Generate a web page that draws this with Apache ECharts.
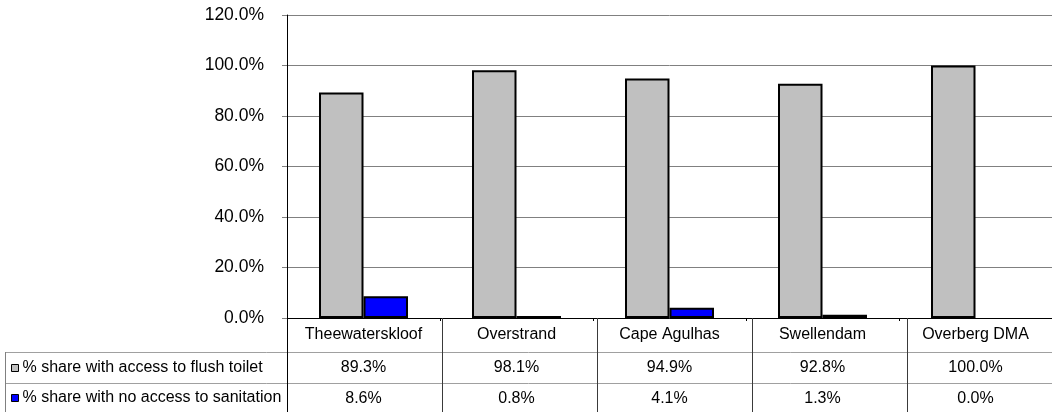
<!DOCTYPE html>
<html>
<head>
<meta charset="utf-8">
<script src="https://cdn.jsdelivr.net/npm/echarts@6/dist/echarts.min.js"></script>
<style>
  html, body { margin: 0; padding: 0; background: #ffffff; }
  #chart { width: 1052px; height: 412px; }
</style>
</head>
<body>
<div id="chart"></div>
<script>
// Sanitation access by municipality, Overberg district
const categories = ['Theewaterskloof', 'Overstrand', 'Cape Agulhas', 'Swellendam', 'Overberg DMA'];
const flushToilet = [89.3, 98.1, 94.9, 92.8, 100.0];
const noSanitation = [8.6, 0.8, 4.1, 1.3, 0.0];
const seriesNames = ['% share with access to flush toilet', '% share with no access to sanitation'];
const yMin = 0, yMax = 120, yStep = 20;

const FONT = 'Liberation Sans, Arial, sans-serif';

// plot frame and data-table layout
const G = { left: 287, top: 15, width: 775, height: 303 };
const rowH = [34, 31, 30];
const tableTop = G.top + G.height;
const rowY1 = tableTop + rowH[0];
const rowY2 = rowY1 + rowH[1];
const H = 412, W = 1052;
const colW = G.width / categories.length;

const pct = v => v.toFixed(1) + '%';

const lines = [];
const hLine = (x1, x2, y, c) => lines.push({ type: 'line', silent: true, z: 10,
  shape: { x1: x1, y1: y + 0.5, x2: x2, y2: y + 0.5 }, style: { stroke: c, lineWidth: 1 } });
const vLine = (x, y1, y2, c) => lines.push({ type: 'line', silent: true, z: 10,
  shape: { x1: x + 0.5, y1: y1, x2: x + 0.5, y2: y2 }, style: { stroke: c, lineWidth: 1 } });

hLine(5, W, rowY1, '#a0a0a0');
hLine(5, W, rowY2, '#a0a0a0');
vLine(5, rowY1, H, '#808080');
vLine(G.left, tableTop, H, '#000000');
for (let i = 1; i < categories.length; i++) {
  vLine(Math.round(G.left + i * colW), tableTop, H, '#3a3a3a');
}

const valueAxis = (offset, values) => ({
  type: 'category', gridIndex: 0, position: 'bottom', offset: offset,
  data: categories,
  axisLine: { show: false }, axisTick: { show: false },
  axisLabel: { margin: 8, color: '#000', fontFamily: FONT, fontSize: 16,
    formatter: (v, i) => pct(values[i]) }
});

// one legend key per table row
const rowLegend = (name, top) => ({
  data: [name],
  left: 11, top: top,
  icon: 'rect', itemWidth: 7, itemHeight: 7, itemGap: 0,
  itemStyle: { borderColor: '#000', borderWidth: 1 },
  textStyle: { color: '#000', fontFamily: FONT, fontSize: 16, padding: [0, 0, 0, -1] },
  selectedMode: false, padding: 0
});

// a zero-height bar shows no outline
const noOutlineAtZero = arr => arr.map(v => v === 0 ? { value: v, itemStyle: { borderWidth: 0 } } : v);

const chart = echarts.init(document.getElementById('chart'), null, { renderer: 'canvas' });
chart.setOption({
  animation: false,
  backgroundColor: '#ffffff',
  grid: { left: G.left, top: G.top, width: G.width, height: G.height, containLabel: false },
  legend: [
    rowLegend(seriesNames[0], rowY1 + 8),
    rowLegend(seriesNames[1], rowY2 + 7)
  ],
  xAxis: [
    {
      type: 'category', gridIndex: 0, data: categories,
      axisLine: { show: true, lineStyle: { color: '#000', width: 1 } },
      axisTick: { show: true, length: 3, lineStyle: { color: '#000' } },
      axisLabel: { margin: 9, color: '#000', fontFamily: FONT, fontSize: 16 }
    },
    valueAxis(rowH[0], flushToilet),
    valueAxis(rowH[0] + rowH[1], noSanitation)
  ],
  yAxis: {
    type: 'value', min: yMin, max: yMax, interval: yStep,
    axisLine: { show: true, lineStyle: { color: '#000', width: 1 } },
    axisTick: { show: true, length: 5, lineStyle: { color: '#808080' } },
    splitLine: { show: true, lineStyle: { color: '#808080', width: 1 } },
    axisLabel: { margin: 23, color: '#000', fontFamily: FONT, fontSize: 17.5,
      formatter: v => pct(v) }
  },
  series: [
    {
      name: seriesNames[0], type: 'bar', data: noOutlineAtZero(flushToilet),
      barGap: 0, barWidth: 44.5,
      itemStyle: { color: '#c0c0c0', borderColor: '#000', borderWidth: 2 }
    },
    {
      name: seriesNames[1], type: 'bar', data: noOutlineAtZero(noSanitation),
      barGap: 0, barWidth: 44.5,
      itemStyle: { color: '#0000ff', borderColor: '#000', borderWidth: 2 }
    }
  ],
  graphic: lines
});
</script>
</body>
</html>
